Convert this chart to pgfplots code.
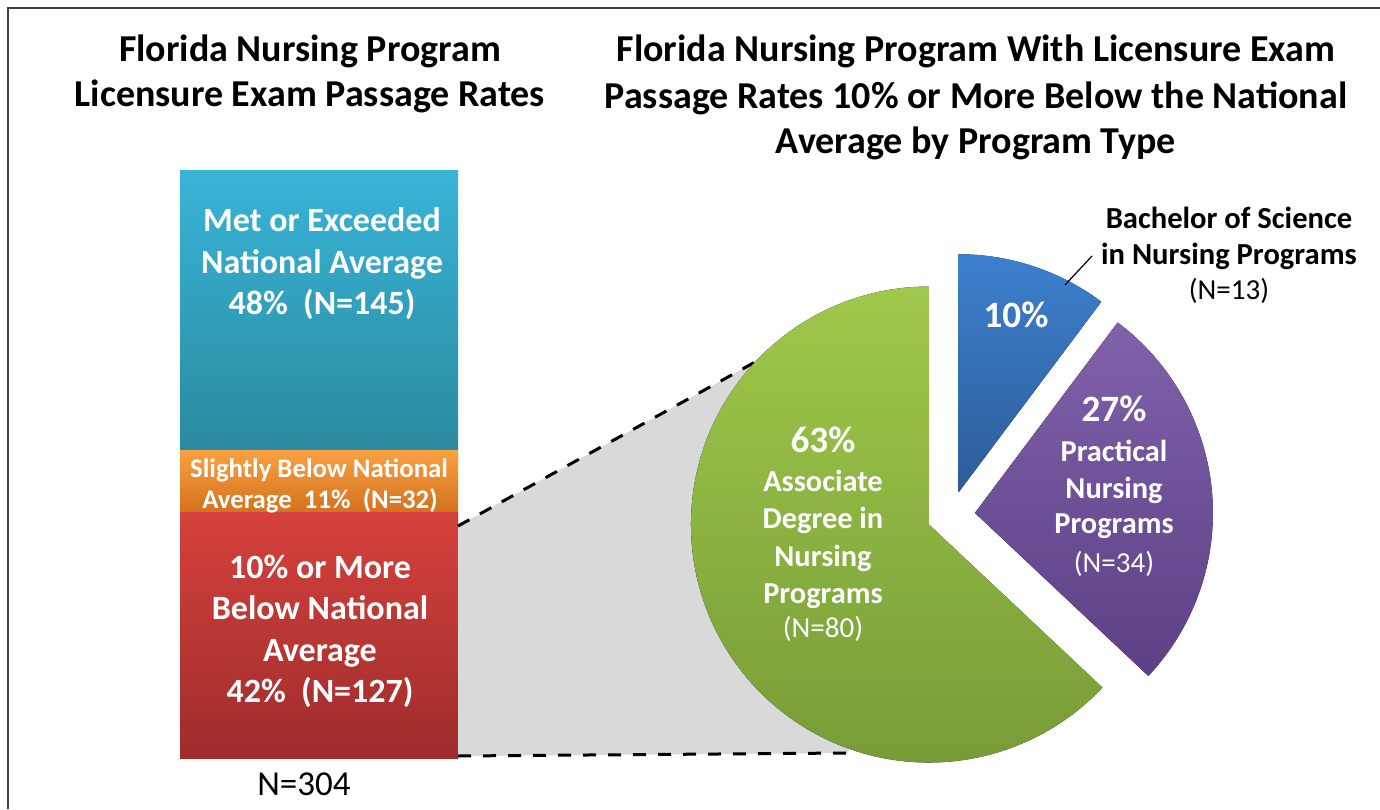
\documentclass[border=0pt]{standalone}
\usepackage{pgfplots}
\pgfplotsset{compat=1.18}
\usepackage{fontspec}
\setmainfont{Carlito}
\definecolor{blueT}{HTML}{39B4D8}
\definecolor{blueB}{HTML}{2A8A9E}
\definecolor{orT}{HTML}{F9A041}
\definecolor{orB}{HTML}{D4711D}
\definecolor{redT}{HTML}{D5413C}
\definecolor{redB}{HTML}{9E2C2C}
\definecolor{grT}{HTML}{9FC94B}
\definecolor{grB}{HTML}{779C37}
\definecolor{bsT}{HTML}{3C80CE}
\definecolor{bsB}{HTML}{2D5C97}
\definecolor{puT}{HTML}{8061AA}
\definecolor{puB}{HTML}{5D4086}
\definecolor{conn}{HTML}{D9D9D9}
\newcommand\fs[2]{\fontsize{#1}{#2}\selectfont}
\newcommand\lab[4]{\node[anchor=base,inner sep=0pt,font=#3] at (axis cs:#1,#2) {#4};}
\begin{document}
\begin{tikzpicture}
% pie data (N per program type)
\pgfmathsetmacro\nB{13}
\pgfmathsetmacro\nP{34}
\pgfmathsetmacro\nA{80}
\pgfmathsetmacro\tot{\nB+\nP+\nA}
\pgfmathsetmacro\sB{90-360*\nB/\tot}
\pgfmathsetmacro\mB{90-180*\nB/\tot}
\pgfmathsetmacro\sP{\sB-360*\nP/\tot}
\pgfmathsetmacro\mP{\sB-180*\nP/\tot}
\pgfmathsetmacro\eA{\sP+360}
\pgfmathsetmacro\mA{90+180*\nA/\tot}
% stacked bar
\begin{axis}[at={(90pt,25.5pt)},anchor=south west,scale only axis,
  width=139pt,height=293.5pt,xmin=-0.5,xmax=0.5,ymin=0,ymax=304,
  hide axis,ybar stacked,bar width=139pt]
\addplot[draw=none,top color=redT,bottom color=redB] coordinates {(0,127)};
\addplot[draw=none,top color=orT,bottom color=orB] coordinates {(0,32)};
\addplot[draw=none,top color=blueT,bottom color=blueB] coordinates {(0,145)};
\end{axis}
% overlay in pixel coordinates
\begin{axis}[at={(0pt,0pt)},anchor=south west,scale only axis,
  width=690pt,height=404.5pt,xmin=0,xmax=1380,ymin=0,ymax=809,
  hide axis,clip=false]
\fill[conn] (axis cs:458,283) -- (axis cs:757,448) -- (axis cs:929,284) -- (axis cs:848,56) -- (axis cs:458,53) -- cycle;
\draw[line width=1.5pt,dash pattern=on 6.5pt off 6pt] (axis cs:458,283) -- (axis cs:757,448);
\draw[line width=1.5pt,dash pattern=on 6.5pt off 6pt] (axis cs:458,53) -- (axis cs:848,56);
% pie slices
\fill[top color=grT,bottom color=grB] ([shift={(\mA:12pt)}]axis cs:951,294) -- ++(90:119pt) arc[start angle=90,end angle=\eA,radius=119pt] -- cycle;
\fill[top color=bsT,bottom color=bsB] ([shift={(\mB:12pt)}]axis cs:951,294) -- ++(\sB:119pt) arc[start angle=\sB,end angle=90,radius=119pt] -- cycle;
\fill[top color=puT,bottom color=puB] ([shift={(\mP:12pt)}]axis cs:951,294) -- ++(\sP:119pt) arc[start angle=\sP,end angle=\sB,radius=119pt] -- cycle;
% frame
\draw[line width=1pt,black!75] (axis cs:8,0) -- (axis cs:8,801) -- (axis cs:1380,801);
% titles
\lab{310}{747}{\bfseries\fs{19}{22}}{Florida Nursing Program}
\lab{310}{702}{\bfseries\fs{19}{22}}{Licensure Exam Passage Rates}
\lab{976}{747}{\bfseries\fs{19}{22}}{Florida Nursing Program With Licensure Exam}
\lab{976}{700}{\bfseries\fs{19}{22}}{Passage Rates 10\% or More Below the National}
\lab{976}{655}{\bfseries\fs{19}{22}}{Average by Program Type}
% bar labels
\lab{322}{577}{\bfseries\color{white}\fs{17}{20}}{Met or Exceeded}
\lab{322}{535}{\bfseries\color{white}\fs{17}{20}}{National Average}
\lab{322}{494}{\bfseries\color{white}\fs{17}{20}}{48\%~~(N=145)}
\lab{319}{331}{\bfseries\color{white}\fs{13.4}{16}}{Slightly Below National}
\lab{320}{300}{\bfseries\color{white}\fs{13.4}{16}}{Average~~11\%~~(N=32)}
\lab{320}{231}{\bfseries\color{white}\fs{17}{20}}{10\% or More}
\lab{320}{190}{\bfseries\color{white}\fs{17}{20}}{Below National}
\lab{320}{148}{\bfseries\color{white}\fs{17}{20}}{Average}
\lab{320}{107}{\bfseries\color{white}\fs{17}{20}}{42\%~~(N=127)}
\lab{304}{14}{\fs{17.5}{20}}{N=304}
% pie labels
\lab{823}{356}{\bfseries\color{white}\fs{18.6}{22}}{63\%}
\lab{823}{317}{\bfseries\color{white}\fs{15.2}{18}}{Associate}
\lab{823}{281}{\bfseries\color{white}\fs{15.2}{18}}{Degree in}
\lab{823}{243}{\bfseries\color{white}\fs{15.2}{18}}{Nursing}
\lab{823}{206}{\bfseries\color{white}\fs{15.2}{18}}{Programs}
\lab{823}{172}{\color{white}\fs{14.5}{18}}{(N=80)}
\lab{1016}{481}{\bfseries\color{white}\fs{18.6}{22}}{10\%}
\lab{1114}{387}{\bfseries\color{white}\fs{18.6}{22}}{27\%}
\lab{1114}{347}{\bfseries\color{white}\fs{15.2}{18}}{Practical}
\lab{1114}{311}{\bfseries\color{white}\fs{15.2}{18}}{Nursing}
\lab{1114}{276}{\bfseries\color{white}\fs{15.2}{18}}{Programs}
\lab{1114}{237}{\color{white}\fs{14.5}{18}}{(N=34)}
\lab{1229}{580}{\bfseries\fs{15.3}{18}}{Bachelor of Science}
\lab{1229}{544}{\bfseries\fs{15.3}{18}}{in Nursing Programs}
\lab{1229}{509}{\fs{14.5}{18}}{(N=13)}
\draw[black,line width=0.6pt] (axis cs:1065,524) -- (axis cs:1092,553);
\end{axis}
\pgfresetboundingbox
\path[use as bounding box] (0,0) rectangle (690pt,404.5pt);
\end{tikzpicture}
\end{document}
